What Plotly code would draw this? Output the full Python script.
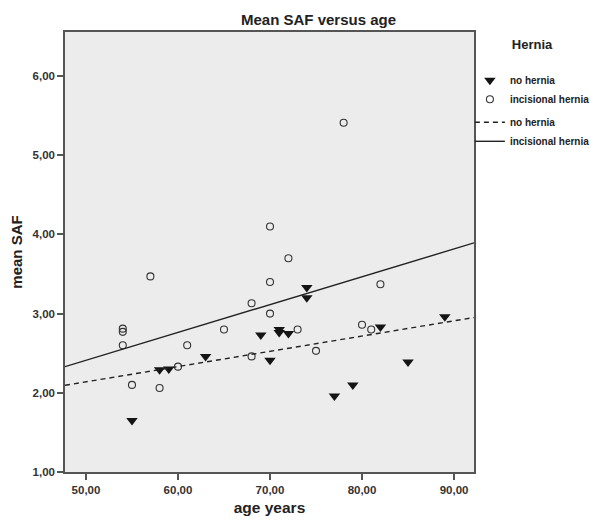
import numpy as np
import plotly.graph_objects as go

# ---- data ----
no_hernia_age = [55, 58, 59, 63, 69, 70, 71, 71, 72, 74, 74, 77, 79, 82, 85, 89]
no_hernia_saf = [1.65, 2.29, 2.30, 2.46, 2.73, 2.41, 2.80, 2.76, 2.75, 3.33, 3.20,
                 1.96, 2.10, 2.83, 2.39, 2.96]

incisional_age = [54, 54, 54, 57, 55, 58, 60, 61, 65, 68, 68, 70, 70, 70, 72, 73,
                  75, 78, 80, 81, 82]
incisional_saf = [2.81, 2.77, 2.60, 3.47, 2.10, 2.06, 2.33, 2.60, 2.80, 2.46, 3.13,
                  4.10, 3.40, 3.00, 3.70, 2.80, 2.53, 5.41, 2.86, 2.80, 3.37]

x_tick_vals = [50, 60, 70, 80, 90]
x_tick_text = ["50,00", "60,00", "70,00", "80,00", "90,00"]
y_tick_vals = [1, 2, 3, 4, 5, 6]
y_tick_text = ["1,00", "2,00", "3,00", "4,00", "5,00", "6,00"]

X_RANGE = [47.72, 92.17]
Y_RANGE = [1.0, 6.556]

FONT = "Liberation Sans, Arial, sans-serif"


def fit_line(xs, ys):
    slope, intercept = np.polyfit(np.asarray(xs, float), np.asarray(ys, float), 1)
    xx = np.array(X_RANGE)
    return xx, intercept + slope * xx


fig = go.Figure()

fig.add_trace(go.Scatter(
    x=no_hernia_age, y=no_hernia_saf, mode="markers", name="no hernia",
    marker=dict(symbol="triangle-down", size=10, color="#141414",
                line=dict(width=0)),
    legendgroup="pts",
))
fig.add_trace(go.Scatter(
    x=incisional_age, y=incisional_saf, mode="markers", name="incisional hernia",
    marker=dict(symbol="circle-open", size=7, color="#333333",
                line=dict(width=1.1, color="#333333")),
    legendgroup="pts",
))

fx, fy = fit_line(no_hernia_age, no_hernia_saf)
fig.add_trace(go.Scatter(
    x=fx, y=fy, mode="lines", name="no hernia",
    line=dict(color="#222222", width=1.4, dash="5px,4px"),
    legendgroup="fits",
))
fx2, fy2 = fit_line(incisional_age, incisional_saf)
fig.add_trace(go.Scatter(
    x=fx2, y=fy2, mode="lines", name="incisional hernia",
    line=dict(color="#222222", width=1.4),
    legendgroup="fits",
))

axis_common = dict(
    showline=True, mirror=True, linecolor="#555555", linewidth=1.5,
    ticks="outside", ticklen=6, tickwidth=1.5, tickcolor="#555555",
    showgrid=False, zeroline=False,
    tickfont=dict(family=FONT, size=11.5, color="#333333", weight="bold"),
)

# the page body adds an 8px margin, so the figure is 8px smaller each way
fig.update_layout(
    width=590, height=513,
    margin=dict(l=57, r=124, t=24, b=49, autoexpand=False),
    paper_bgcolor="white",
    plot_bgcolor="#ececec",
    font=dict(family=FONT, color="#222222"),
    xaxis=dict(range=X_RANGE, tickvals=x_tick_vals, ticktext=x_tick_text,
               title=dict(text="age years", standoff=8,
                          font=dict(family=FONT, size=15.5, color="#222222", weight="bold")),
               **axis_common),
    yaxis=dict(range=Y_RANGE, tickvals=y_tick_vals, ticktext=y_tick_text,
               title=dict(text="mean SAF", standoff=10,
                          font=dict(family=FONT, size=15, color="#222222", weight="bold")),
               **axis_common),
    showlegend=True,
    legend=dict(
        x=0.99, xanchor="left", y=1.0, yanchor="top",
        bgcolor="rgba(0,0,0,0)",
        tracegroupgap=4,
        itemwidth=30,
        font=dict(family=FONT, size=10, color="#222222", weight="bold"),
        title=dict(text="Hernia<br> ", side="top center",
                   font=dict(family=FONT, size=13, color="#222222", weight="bold")),
    ),
    annotations=[dict(
        text="Mean SAF versus age", xref="paper", yref="paper",
        x=0.621, y=1.0534, xanchor="center", yanchor="top", showarrow=False,
        font=dict(family=FONT, size=15, color="#222222", weight="bold"),
    )],
)

fig.write_html("out.html")
